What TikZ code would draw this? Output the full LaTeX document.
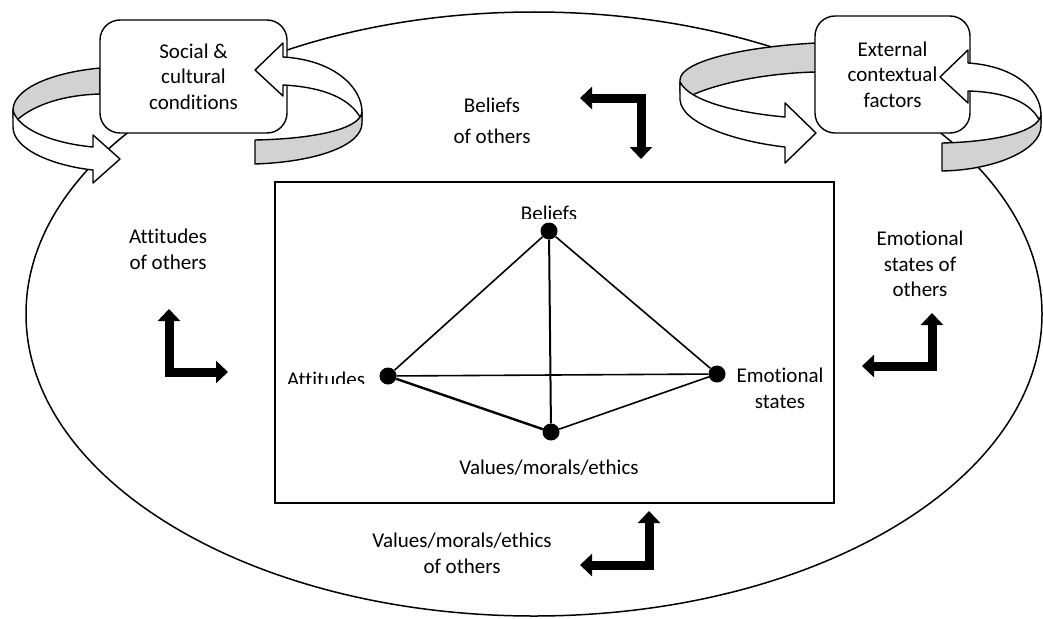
\documentclass[tikz,border=0pt]{standalone}
\usepackage{fontspec}
\setmainfont{Carlito}[Ligatures=NoCommon]
\usetikzlibrary{arrows.meta}
\definecolor{ribgray}{RGB}{210,210,210}
\begin{document}
\begin{tikzpicture}[x=1pt,y=-1pt,
  lbl/.style={font=\fontsize{21}{25.6}\selectfont, align=center, inner sep=0pt},
  rib/.style={draw=black, line width=1.4pt, line join=round},
  ribg/.style={rib, fill=ribgray},
  ribw/.style={rib, fill=white},
  bentarrow/.style={line width=9pt, line join=miter, {Triangle[width=22pt,length=12pt]}-{Triangle[width=22pt,length=12pt]}},
  link/.style={line width=1.6pt},
  dotnode/.style={circle, fill=black, inner sep=0pt, minimum size=17pt},
  rbox/.style={lbl, draw=black, line width=1.4pt, rounded corners=20pt, fill=white}
]
\useasboundingbox (0,0) rectangle (1043,618);
\fill[white] (0,0) rectangle (1043,618);

% outer ellipse
\draw[line width=1.5pt] (534,314) ellipse [x radius=508, y radius=302];

% inner rectangle
\node[draw=black, line width=1.5pt, minimum width=559pt, minimum height=321pt, inner sep=0pt] (frame) at (554.5,342.5) {};

% ribbons behind boxes
\draw[ribg] (100,68) .. controls (48,73) and (13,90) .. (13,110) -- (13,117) -- (17,120) .. controls (35,104) and (65,95) .. (100,94) -- cycle;
\draw[ribw] (13,110) -- (13,127) .. controls (13,150) and (55,166) .. (93,170) -- (93,183) -- (120,159) -- (93,135) -- (93,147) .. controls (50,143) and (17,128) .. (13,110) -- cycle;
\draw[ribg] (816,43) .. controls (740,47) and (680,62) .. (680,80) -- (680,92) -- (690,96) .. controls (720,82) and (770,73) .. (816,72) -- cycle;

% boxes
\node[rbox, minimum width=187pt, minimum height=113pt] (soc) at (193.5,76.5) {Social \&\\cultural\\conditions};
\node[rbox, minimum width=155pt, minimum height=117pt] (ext) at (892.5,74.5) {External\\contextual\\factors};

% ribbons in front of boxes
\draw[ribw] (680,82) -- (680,100) .. controls (682,125) and (740,142) .. (785,147) -- (785,163) -- (816,133) -- (785,103) -- (785,117) .. controls (740,113) and (690,102) .. (680,82) -- cycle;
\draw[ribw] (255,70) -- (283,43) -- (283,57) .. controls (335,60) and (362,88) .. (362,112) -- (362,121) .. controls (352,98) and (322,87) .. (283,85) -- (283,96) -- cycle;
\draw[ribg] (362,112) .. controls (360,130) and (310,139) .. (255,140) -- (255,164) .. controls (315,162) and (362,146) .. (362,123) -- cycle;
\draw[ribw] (940,77) -- (968,50) -- (968,63) .. controls (1015,66) and (1041,90) .. (1041,115) -- (1041,124) .. controls (1033,102) and (1005,92) .. (968,91) -- (968,103) -- cycle;
\draw[ribg] (1041,115) .. controls (1038,133) and (990,142) .. (942,143) -- (942,171) .. controls (995,170) and (1041,150) .. (1041,126) -- cycle;

% outer labels
\node[lbl] (bo) at (492,121) {Beliefs\\[5pt]of others};
\node[lbl] (ao) at (168,249) {Attitudes\\of others};
\node[lbl] (eo) at (920,264) {Emotional\\states of\\others};
\node[lbl] (vo) at (462,553) {Values/morals/ethics\\of others};

% bent arrows
\coordinate (b1s) at (580,98); \coordinate (b1c) at (641,98); \coordinate (b1e) at (641,159);
\draw[bentarrow] (b1s) -- (b1c) -- (b1e);
\coordinate (b2s) at (169,309); \coordinate (b2c) at (169,372); \coordinate (b2e) at (228,372);
\draw[bentarrow] (b2s) -- (b2c) -- (b2e);
\coordinate (b3s) at (932,313); \coordinate (b3c) at (932,366); \coordinate (b3e) at (862,366);
\draw[bentarrow] (b3s) -- (b3c) -- (b3e);
\coordinate (b4s) at (649,511); \coordinate (b4c) at (649,565); \coordinate (b4e) at (580,565);
\draw[bentarrow] (b4s) -- (b4c) -- (b4e);

% inner labels
\begin{scope}
\clip (500,190) rectangle (600,218);
\node[lbl, anchor=base] (bl) at (549,220) {Beliefs};
\end{scope}
\begin{scope}
\clip (280,360) rectangle (375,383.5);
\node[lbl, anchor=base] (al) at (326,386) {Attitudes};
\end{scope}
\node[lbl] (el) at (780,388) {Emotional\\states};
\node[lbl] (vl) at (549,468) {Values/morals/ethics};

% tetrahedron
\node[dotnode] (B) at (549,231) {};
\node[dotnode] (A) at (388,376) {};
\node[dotnode] (E) at (717,374) {};
\node[dotnode] (V) at (551,432) {};
\draw[link] (B) -- (A);
\draw[link] (B) -- (E);
\draw[line width=2pt] (B) -- (V);
\draw[link] (A) -- (E);
\draw[line width=2.4pt] (A) -- (V);
\draw[link] (V) -- (E);
\end{tikzpicture}
\end{document}
